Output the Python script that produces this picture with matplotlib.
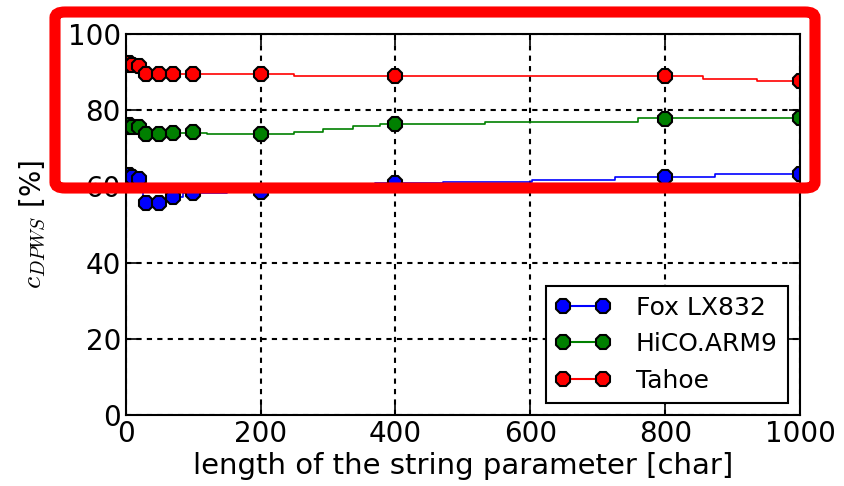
from matplotlib import pyplot as plt
from matplotlib.patches import FancyBboxPatch
import numpy as np

# sample points with markers
x_pts = [1, 5, 10, 20, 30, 50, 70, 100, 200, 400, 800, 1000]
fox_pts = [62.5, 63, 62.5, 62, 55.6, 55.6, 57.2, 58.3, 58.5, 60.9, 62.5, 63.2]
hico_pts = [75.5, 76, 75.5, 75.5, 73.8, 73.8, 74.1, 74.4, 73.8, 76.3, 77.7, 78.0]
tahoe_pts = [92, 92.5, 92, 91.5, 89.6, 89.6, 89.6, 89.6, 89.5, 89.0, 89.1, 87.7]

# step lines (breakpoints)
fox_lx = [0, 25, 60, 85, 150, 300, 370, 470, 602, 726, 874, 1000]
fox_ly = [62.5, 55.6, 57.2, 58.3, 58.5, 60.0, 60.9, 61.2, 61.8, 62.5, 63.2, 63.2]
hico_lx = [0, 25, 120, 250, 292, 337, 377, 533, 760, 1000]
hico_ly = [75.5, 74.0, 73.8, 74.4, 75.0, 75.9, 76.4, 77.0, 77.9, 77.9]
tahoe_lx = [0, 25, 250, 856, 936, 1000]
tahoe_ly = [92, 89.6, 89.0, 88.3, 87.7, 87.7]

labels = ['Fox LX832', 'HiCO.ARM9', 'Tahoe']
colors = ['b', 'g', 'r']

plt.rcParams['font.family'] = 'DejaVu Sans'
plt.rcParams['mathtext.fontset'] = 'cm'
plt.rcParams['xtick.direction'] = 'in'
plt.rcParams['ytick.direction'] = 'in'

fig = plt.figure(figsize=(8.44, 4.86), dpi=100)
ax = fig.add_axes([0.149, 0.146, 0.799, 0.784])

series = [(fox_lx, fox_ly, fox_pts), (hico_lx, hico_ly, hico_pts), (tahoe_lx, tahoe_ly, tahoe_pts)]
for (lx, ly, pts), c, lab in zip(series, colors, labels):
    ax.plot(lx, ly, c + '-', drawstyle='steps-post', lw=1.2)
    ax.plot(x_pts, pts, c + '-', marker='8', ls='none', ms=11, mec='k', mew=1.5)
    ax.plot([], [], c + '-', marker='8', ms=11, mec='k', mew=1.5, label=lab)

ax.set_xlim(0, 1000)
ax.set_ylim(0, 100)
ax.set_xticks([0, 200, 400, 600, 800, 1000])
ax.set_yticks([0, 20, 40, 60, 80, 100])
ax.grid(True, color='k', ls=(0, (2.5, 2.5)), lw=1.5)
ax.tick_params(labelsize=20, top=True, right=True, length=8, width=1.2)
for s in ax.spines.values():
    s.set_linewidth(1.5)
ax.set_xlabel('length of the string parameter [char]', fontsize=21, labelpad=3)
ax.set_ylabel(r'$c_{DPWS}$ [%]', fontsize=20, labelpad=14)
leg = ax.legend(loc='lower right', numpoints=2, fontsize=18, fancybox=False,
                framealpha=1, edgecolor='k', borderaxespad=0.5, handlelength=2.2,
                handletextpad=1.0, labelspacing=0.5)
leg.get_frame().set_linewidth(1.5)

# red highlight box
W, H = 844, 486
box = FancyBboxPatch((55 / W, 1 - 188 / H), 760 / W, 176 / H,
                     boxstyle='round,pad=0,rounding_size=0.012',
                     transform=fig.transFigure, fill=False, ec='#ff0000', lw=8,
                     zorder=10, clip_on=False)
fig.patches.append(box)

fig.savefig('out.png', dpi=100)
